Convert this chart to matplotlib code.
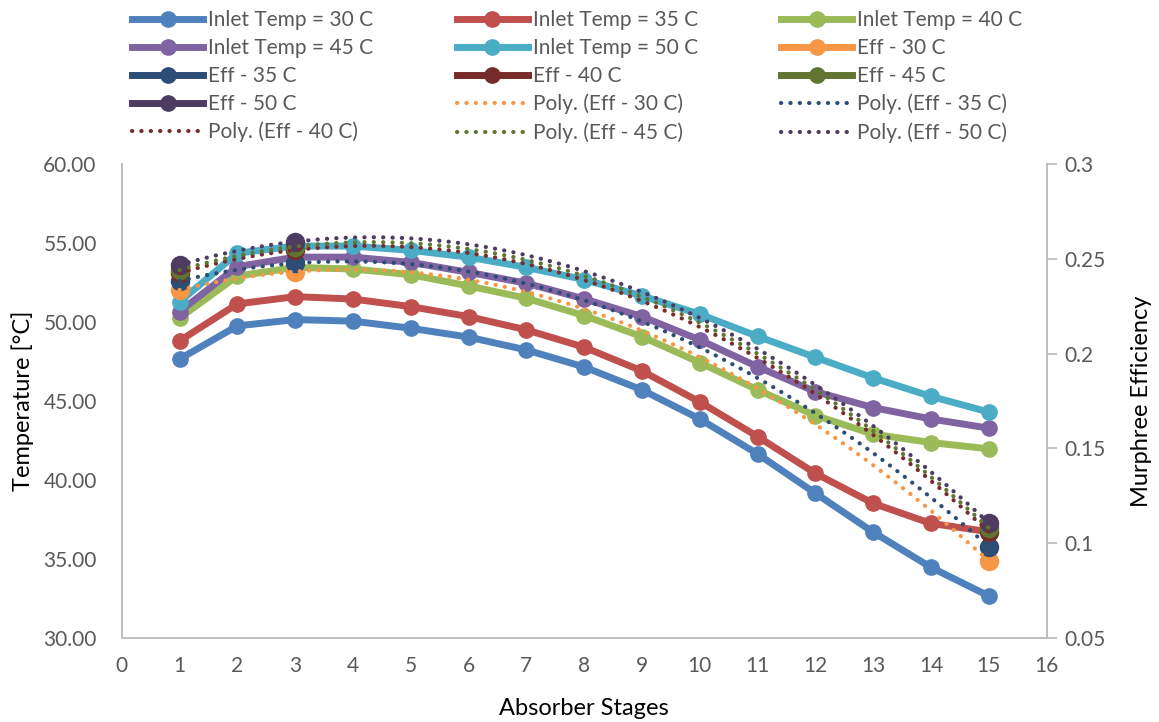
import numpy as np
import matplotlib
matplotlib.use("Agg")
import matplotlib.pyplot as plt
from matplotlib.lines import Line2D

plt.rcParams['font.family'] = ['Lato', 'DejaVu Sans']

# data
stages = np.arange(1, 16)
temp_30 = [47.65, 49.75, 50.15, 50.05, 49.6, 49.04, 48.23, 47.15, 45.7, 43.86, 41.65, 39.16, 36.7, 34.47, 32.66]
temp_35 = [48.8, 51.14, 51.6, 51.45, 50.97, 50.34, 49.5, 48.4, 46.9, 44.94, 42.75, 40.42, 38.52, 37.25, 36.73]
temp_40 = [50.25, 52.9, 53.45, 53.35, 52.99, 52.28, 51.5, 50.4, 49.07, 47.43, 45.7, 44.08, 42.9, 42.37, 41.97]
temp_45 = [50.65, 53.5, 54.1, 54.1, 53.77, 53.14, 52.45, 51.46, 50.34, 48.86, 47.17, 45.59, 44.58, 43.86, 43.28]
temp_50 = [51.27, 54.35, 54.8, 54.8, 54.53, 54.1, 53.45, 52.68, 51.65, 50.49, 49.09, 47.76, 46.46, 45.29, 44.3]

eff_stages = [1, 3, 15]
eff_30 = [0.2335, 0.2432, 0.0906]
eff_35 = [0.2383, 0.2476, 0.0982]
eff_40 = [0.2425, 0.2546, 0.1060]
eff_45 = [0.2440, 0.2564, 0.1080]
eff_50 = [0.2467, 0.2590, 0.1107]

temp_labels = ['Inlet Temp = 30 C', 'Inlet Temp = 35 C', 'Inlet Temp = 40 C',
               'Inlet Temp = 45 C', 'Inlet Temp = 50 C']
eff_labels = ['Eff - 30 C', 'Eff - 35 C', 'Eff - 40 C', 'Eff - 45 C', 'Eff - 50 C']

temp_colors = ['#4F81BD', '#C0504D', '#9BBB59', '#8064A2', '#4BACC6']
eff_colors = ['#F79646', '#2C4D75', '#772C2A', '#5F7530', '#4D3B62']

grey = '#BFBFBF'
txt = '#595959'
dots = (0, (0.05, 2.2))

fig = plt.figure(figsize=(11.59, 7.22), dpi=100)
ax = fig.add_axes([0.105, 0.1163, 0.798, 0.6567])
ax2 = ax.twinx()

handles = []
for vals, lab, c in zip([temp_30, temp_35, temp_40, temp_45, temp_50], temp_labels, temp_colors):
    ax.plot(stages, vals, color=c, lw=5, marker='o', ms=11, zorder=3)
    handles.append(Line2D([], [], color=c, lw=5, marker='o', ms=11, label=lab))

xs = np.linspace(1, 15, 200)
poly_handles = []
for vals, lab, c in zip([eff_30, eff_35, eff_40, eff_45, eff_50], eff_labels, eff_colors):
    ax2.plot(eff_stages, vals, color=c, ls='none', marker='o', ms=13, zorder=4)
    handles.append(Line2D([], [], color=c, lw=5, marker='o', ms=11, label=lab))
    # second order trend line, like Excel's Poly. trendline
    coef = np.polyfit(eff_stages, vals, 2)
    ax2.plot(xs, np.polyval(coef, xs), color=c, lw=3, ls=dots,
             dash_capstyle='round', zorder=5)
    poly_handles.append(Line2D([], [], color=c, lw=3, ls=dots,
                               dash_capstyle='round', label='Poly. (' + lab + ')'))
handles += poly_handles

ax.set_xlim(0, 16)
ax.set_ylim(30, 60)
ax2.set_ylim(0.05, 0.3)
ax.set_xticks(range(0, 17))
ax.set_yticks(np.arange(30, 61, 5))
ax.set_yticklabels([f'{v:.2f}' for v in np.arange(30, 61, 5)])
ax2.set_yticks([0.05, 0.1, 0.15, 0.2, 0.25, 0.3])
ax2.set_yticklabels(['0.05', '0.1', '0.15', '0.2', '0.25', '0.3'])

for a in (ax, ax2):
    a.spines['top'].set_visible(False)
    for s in ('left', 'right', 'bottom'):
        a.spines[s].set_color(grey)
        a.spines[s].set_linewidth(1.3)
ax.tick_params(axis='x', length=0, labelsize=15, labelcolor=txt, pad=13)
ax.tick_params(axis='y', length=0, labelsize=15, labelcolor=txt, pad=18)
ax2.tick_params(axis='y', length=7, width=1.3, color=grey, labelsize=15, labelcolor=txt, pad=6)

ax.set_xlabel('Absorber Stages', fontsize=17, labelpad=16)
ax.set_ylabel('Temperature [°C]', fontsize=17, labelpad=7)
ax2.set_ylabel('Murphree Efficiency', fontsize=17, labelpad=18)

# legend in row-major order, 3 columns
order = []
for col in range(3):
    order += [handles[i] for i in range(col, 15, 3)]
fig.legend(handles=order, ncol=3, loc='upper left', bbox_to_anchor=(0.098, 1.012),
           frameon=False, fontsize=15, handlelength=3.4, columnspacing=4.0,
           handletextpad=0.25, labelspacing=0.38, labelcolor=txt)

fig.savefig('out.png', dpi=100)
